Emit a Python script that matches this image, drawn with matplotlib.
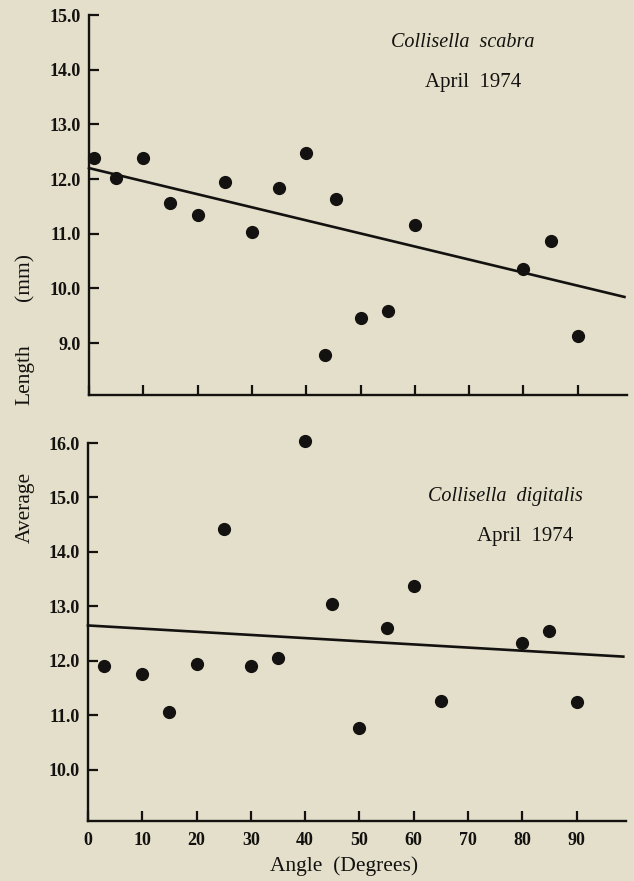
import matplotlib
matplotlib.use("Agg")
import matplotlib.pyplot as plt
import numpy as np

# ---- data ----
scabra_angle = [1, 5, 10, 15, 20, 25, 30, 35, 40, 43.5, 45.5, 50, 55, 60, 80, 85, 90]
scabra_length = [12.38, 12.01, 12.38, 11.56, 11.34, 11.95, 11.04, 11.84, 12.47,
                 8.79, 11.63, 9.46, 9.59, 11.16, 10.35, 10.87, 9.12]
scabra_fit = (12.2, -0.0239)      # intercept, slope

digitalis_angle = [3, 10, 15, 20, 25, 30, 35, 40, 45, 50, 55, 60, 65, 80, 85, 90]
digitalis_length = [11.90, 11.76, 11.07, 11.94, 14.43, 11.91, 12.06, 16.04,
                    13.04, 10.76, 12.60, 13.38, 11.27, 12.32, 12.54, 11.24]
digitalis_fit = (12.65, -0.0058)

x_ticks = [0, 10, 20, 30, 40, 50, 60, 70, 80, 90]
top_yticks = [9.0, 10.0, 11.0, 12.0, 13.0, 14.0, 15.0]
bot_yticks = [10.0, 11.0, 12.0, 13.0, 14.0, 15.0, 16.0]

bg = "#e4dfca"
ink = "#141210"
W, H = 634, 881
fig = plt.figure(figsize=(W / 100, H / 100), dpi=100, facecolor=bg)
plt.rcParams['font.family'] = ['Liberation Serif', 'DejaVu Serif']

def px_axes(left, top, right, bottom):
    return fig.add_axes([left / W, 1 - bottom / H, (right - left) / W, (bottom - top) / H])

ax1 = px_axes(89, 15, 626.6, 395)
ax2 = px_axes(88, 443, 625.5, 821)

def style(ax, yticks, ylim, show_xlabels):
    ax.set_facecolor(bg)
    ax.set_xlim(0, 99)
    ax.set_ylim(*ylim)
    for s in ["top", "right"]:
        ax.spines[s].set_visible(False)
    for s in ["left", "bottom"]:
        ax.spines[s].set_linewidth(1.7)
        ax.spines[s].set_color(ink)
    ax.spines["left"].set_bounds(ylim[0], yticks[-1])
    ax.set_xticks(x_ticks)
    ax.set_yticks(yticks)
    ax.set_yticklabels([f"{v:.1f}" for v in yticks], fontweight="bold")
    ax.tick_params(axis="both", direction="in", length=7, width=1.6, colors=ink,
                   labelsize=13, pad=4)
    ax.tick_params(axis="y", pad=6)
    if show_xlabels:
        ax.set_xticklabels([str(v) for v in x_ticks], fontweight="bold")
        ax.tick_params(axis="x", pad=8)
    else:
        ax.set_xticklabels([])

style(ax1, top_yticks, (8.05, 15.0), False)
style(ax2, bot_yticks, (9.06, 16.0), True)

for ax, xs, ys, fit in [(ax1, scabra_angle, scabra_length, scabra_fit),
                        (ax2, digitalis_angle, digitalis_length, digitalis_fit)]:
    ax.plot(xs, ys, "o", color=ink, markersize=8.5, zorder=3, clip_on=False)
    xl = np.array([0, 98.6])
    ax.plot(xl, fit[0] + fit[1] * xl, color=ink, linewidth=1.9, zorder=2, clip_on=False)

ax1.text(68.9, 14.49, "Collisella  scabra", style="italic", fontsize=14.5,
         ha="center", va="center", color=ink)
ax1.text(70.7, 13.77, "April  1974", fontsize=15, ha="center", va="center", color=ink)
ax2.text(76.8, 15.01, "Collisella  digitalis", style="italic", fontsize=14.5,
         ha="center", va="center", color=ink)
ax2.text(80.5, 14.28, "April  1974", fontsize=15, ha="center", va="center", color=ink)

fig.text(25 / W, 1 - 507 / H, "Average", rotation=90, fontsize=15.5,
         ha="center", va="center", color=ink)
fig.text(25 / W, 1 - 375 / H, "Length", rotation=90, fontsize=15.5,
         ha="center", va="center", color=ink)
fig.text(25 / W, 1 - 277 / H, "(mm)", rotation=90, fontsize=15.5,
         ha="center", va="center", color=ink)
fig.text(344 / W, 1 - 866 / H, "Angle  (Degrees)", fontsize=15.5,
         ha="center", va="center", color=ink)

fig.savefig("out.png", dpi=100, facecolor=bg)
